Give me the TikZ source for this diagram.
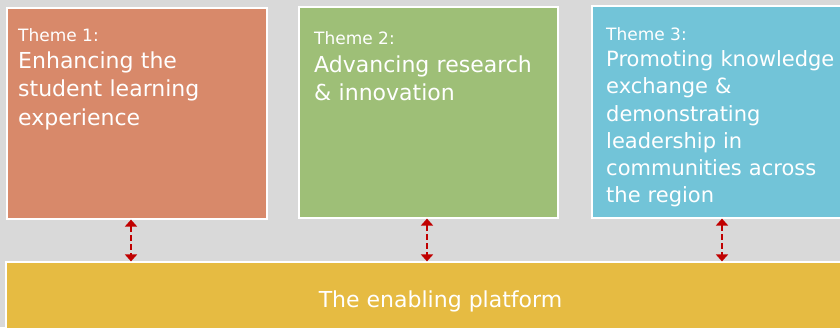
\documentclass[tikz,border=0pt]{standalone}
\usepackage{fontspec}
\setmainfont{DejaVu Sans}
\usetikzlibrary{arrows.meta}
\definecolor{bggray}{HTML}{D9D9D9}
\definecolor{themeorange}{HTML}{D8896A}
\definecolor{themegreen}{HTML}{9EBF77}
\definecolor{themeblue}{HTML}{72C4D8}
\definecolor{platformgold}{HTML}{E6BB42}
\definecolor{linkred}{HTML}{C00000}
\tikzset{
  themebox/.style={draw=white, line width=1.2pt, inner sep=0pt},
  themetag/.style={anchor=base west, inner sep=0pt, text=white,
    font=\fontsize{17}{20}\selectfont},
  themetext/.style={anchor=base west, inner sep=0pt, text=white,
    text width=235pt, align=left},
  link/.style={draw=linkred, line width=2.6pt, dash pattern=on 6pt off 3pt,
    {Triangle[width=12pt,length=7pt]}-{Triangle[width=12pt,length=7pt]}},
}
\begin{document}
\begin{tikzpicture}[x=1pt,y=-1pt]
  \useasboundingbox (0,0) rectangle (840,327);
  \clip (0,0) rectangle (840,327);
  \fill[bggray] (0,0) rectangle (840,327);

  % the three theme boxes
  \node[themebox, fill=themeorange, minimum width=260pt, minimum height=211pt]
    (t1) at (137,113.5) {};
  \node[themebox, fill=themegreen, minimum width=259pt, minimum height=211pt]
    (t2) at (428.5,112.5) {};
  \node[themebox, fill=themeblue, minimum width=280pt, minimum height=212pt]
    (t3) at (732,112) {};

  % the platform underneath
  \node[themebox, fill=platformgold, minimum width=870pt, minimum height=80pt]
    (pf) at (441,302) {};
  \node[inner sep=0pt, text=white, anchor=base, font=\fontsize{22}{26}\selectfont]
    (pflabel) at (440.5,307.5) {The enabling platform};

  % theme texts
  \node[themetag] (tag1) at (18,41) {Theme 1:};
  \node[themetext, font=\fontsize{22}{28.5}\selectfont] (txt1) at (18,68.3)
    {Enhancing the\\student learning\\experience};

  \node[themetag] (tag2) at (314,44) {Theme 2:};
  \node[themetext, font=\fontsize{22}{28.5}\selectfont] (txt2) at (314,72)
    {Advancing research\\\& innovation};

  \node[themetag] (tag3) at (606,40) {Theme 3:};
  \node[themetext, font=\fontsize{21}{27.2}\selectfont] (txt3) at (606,66.7)
    {Promoting knowledge\\exchange \&\\demonstrating\\leadership in\\communities across\\the region};

  % links between themes and platform
  \draw[link] (t1.south -| 131,0) -- (pf.north -| 131,0);
  \draw[link] (t2.south -| 427,0) -- (pf.north -| 427,0);
  \draw[link] (t3.south -| 722,0) -- (pf.north -| 722,0);
\end{tikzpicture}
\end{document}
